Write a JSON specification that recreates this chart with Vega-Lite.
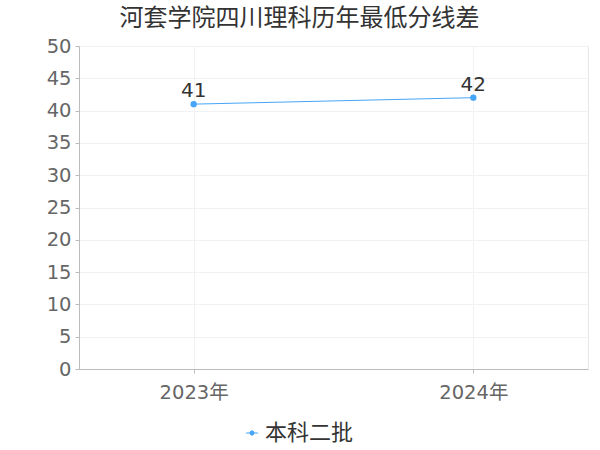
{
  "$schema": "https://vega.github.io/schema/vega-lite/v6.json",
  "autosize": "none",
  "width": 509,
  "height": 323,
  "padding": {"left": 79, "top": 46, "right": 12, "bottom": 81},
  "background": "white",
  "title": {
    "text": "河套学院四川理科历年最低分线差",
    "fontSize": 24,
    "fontWeight": "normal",
    "color": "#333333",
    "anchor": "middle",
    "dx": -34,
    "offset": 5
  },
  "config": {
    "font": "DejaVu Sans, Noto Sans CJK SC",
    "view": {"stroke": "#e6e6e6"}
  },
  "data": {
    "values": [
      {"year": "2023年", "value": 41, "series": "本科二批"},
      {"year": "2024年", "value": 42, "series": "本科二批"}
    ]
  },
  "encoding": {
    "x": {
      "field": "year",
      "type": "ordinal",
      "scale": {"type": "point", "padding": 0.41},
      "axis": {
        "title": null,
        "labelAngle": 0,
        "labelFontSize": 19.5,
        "labelColor": "#666666",
        "labelPadding": 10,
        "domainColor": "#bbbbbb",
        "tickColor": "#bbbbbb",
        "tickSize": 4,
        "grid": true,
        "gridColor": "#f2f2f2"
      }
    },
    "y": {
      "field": "value",
      "type": "quantitative",
      "scale": {"domain": [0, 50]},
      "axis": {
        "title": null,
        "values": [0, 5, 10, 15, 20, 25, 30, 35, 40, 45, 50],
        "labelFontSize": 19.5,
        "labelColor": "#666666",
        "labelPadding": 4,
        "domainColor": "#bbbbbb",
        "tickColor": "#bbbbbb",
        "tickSize": 4,
        "gridColor": "#f2f2f2"
      }
    }
  },
  "layer": [
    {
      "mark": {"type": "line", "strokeWidth": 1, "color": "#47a5f7"},
      "encoding": {
        "color": {
          "field": "series",
          "type": "nominal",
          "scale": {"range": ["#47a5f7"]},
          "legend": {
            "title": null,
            "orient": "none",
            "legendX": 162,
            "legendY": 376,
            "labelFontSize": 22,
            "labelColor": "#333333",
            "symbolType": "M -1 0 L -0.35 0 M 0.35 0 L 1 0 M 0.35 0 A 0.35 0.35 0 1 1 -0.35 0 A 0.35 0.35 0 1 1 0.35 0",
            "symbolFillColor": "#47a5f7",
            "symbolStrokeColor": "#47a5f7",
            "symbolStrokeWidth": 1,
            "symbolSize": 150,
            "labelOffset": 2
          }
        }
      }
    },
    {
      "mark": {"type": "point", "filled": true, "size": 40, "opacity": 1, "color": "#47a5f7"}
    },
    {
      "mark": {"type": "text", "dy": -13, "fontSize": 20, "color": "#333333"},
      "encoding": {"text": {"field": "value", "type": "quantitative"}}
    }
  ]
}
